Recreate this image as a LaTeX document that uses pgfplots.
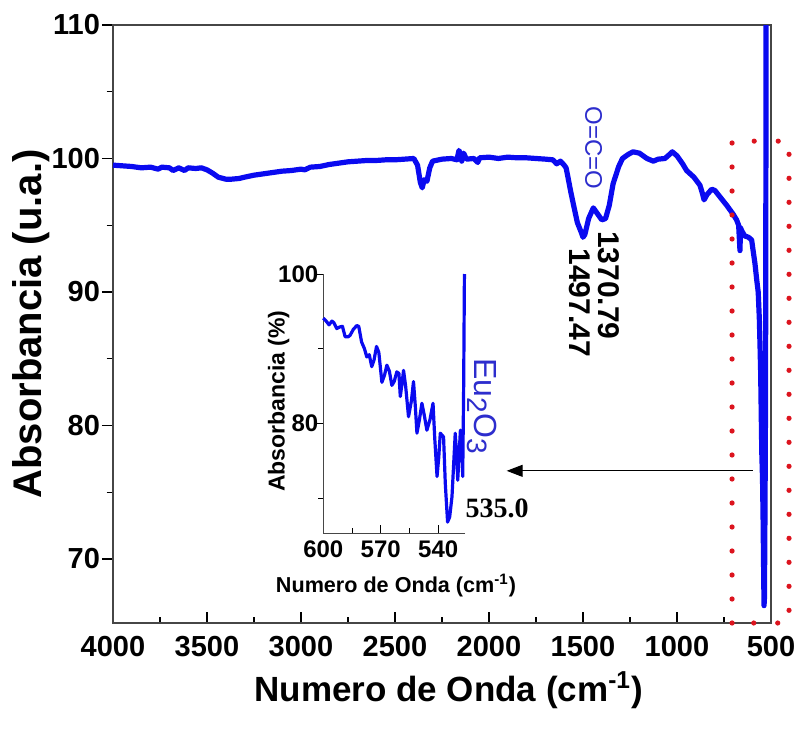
\documentclass[border=0pt]{standalone}
\usepackage{fontspec}
\setmainfont{Liberation Sans}
\newfontfamily\timesfont{Liberation Serif}
\usepackage{pgfplots}
\pgfplotsset{compat=1.18}
\usetikzlibrary{arrows.meta}
\definecolor{curve}{RGB}{10,10,240}
\definecolor{lblue}{RGB}{45,45,205}
\definecolor{axgray}{RGB}{70,70,70}
\definecolor{dotred}{RGB}{220,20,30}
\begin{document}
\begin{tikzpicture}
\useasboundingbox (-56.5pt,-53pt) rectangle (342.5pt,311.5pt);
\begin{axis}[
 at={(0pt,0pt)}, anchor=south west,
 scale only axis, width=329pt, height=299pt,
 xmin=500, xmax=4000, x dir=reverse,
 ymin=65.2, ymax=110,
 xtick={500,1000,...,4000}, ytick={70,80,...,110},
 minor x tick num=1, minor y tick num=1,
 xtick pos=bottom, ytick pos=left,
 tick align=inside,
 major tick length=5.5pt, minor tick length=3.2pt,
 major y tick style={xshift=-5.5pt}, minor y tick style={xshift=-3.2pt},
 tick style={black, line width=0.6pt},
 axis line style={axgray, line width=0.8pt},
 /pgf/number format/assume math mode=true,
 /pgf/number format/1000 sep={},
 scaled ticks=false,
 ticklabel style={font=\fontsize{14.5}{16}\selectfont\bfseries},
 yticklabel style={xshift=-3pt},
 xticklabel style={yshift=-3pt},
 xlabel={Numero de Onda (cm\textsuperscript{-1})},
 ylabel={Absorbancia (u.a.)},
 xlabel style={font=\fontsize{17.5}{20}\selectfont\bfseries, at={(axis description cs:0.51,-0.112)}, anchor=center},
 ylabel style={font=\fontsize{20}{24}\selectfont\bfseries, at={(axis description cs:-0.124,0.5)}, anchor=center},
 clip=false,
]
\addplot[curve, line width=2.6pt, line join=round] coordinates {
(4000,99.5) (3950,99.45) (3900,99.4) (3850,99.3) (3800,99.35) (3760,99.2) (3740,99.35)
(3700,99.3) (3680,99.1) (3650,99.3) (3620,99.1) (3600,99.3) (3560,99.25) (3530,99.3)
(3500,99.15) (3470,98.9) (3440,98.6) (3400,98.45) (3370,98.45) (3330,98.5) (3300,98.6)
(3250,98.75) (3200,98.85) (3150,98.95) (3100,99.05) (3050,99.1) (3000,99.2) (2980,99.15)
(2950,99.35) (2900,99.4) (2850,99.55) (2800,99.65) (2750,99.75) (2700,99.8) (2650,99.85)
(2600,99.85) (2550,99.9) (2500,99.9) (2450,99.95) (2400,100.0) (2380,99.5) (2365,98.2)
(2355,97.8) (2345,98.4) (2330,98.3) (2315,99.3) (2300,99.8) (2250,99.95) (2200,100.0)
(2170,99.9) (2160,100.6) (2150,100.3) (2145,99.8) (2135,100.4) (2120,99.95) (2080,100.0)
(2060,99.7) (2050,100.05) (2000,100.1) (1950,100.0) (1900,100.1) (1850,100.05) (1800,100.05)
(1750,100.0) (1700,99.95) (1660,99.9) (1640,99.6) (1620,99.8) (1600,99.5) (1590,99.3)
(1580,98.6) (1565,97.5) (1550,96.5) (1530,95.2) (1510,94.5) (1500,94.1) (1490,94.3)
(1470,95.5) (1445,96.3) (1420,95.8) (1400,95.4) (1380,95.5) (1360,96.5) (1340,98.1)
(1310,99.4) (1290,100.0) (1260,100.3) (1234,100.5) (1200,100.4) (1160,100.0) (1126,99.8)
(1100,99.95) (1064,100.0) (1040,100.3) (1025,100.5) (1000,100.2) (970,99.6) (949,99.1)
(910,98.6) (878,98.0) (865,97.4) (856,96.9) (840,97.3) (815,97.7) (798,97.6) (770,97.1)
(736,96.5) (700,95.8) (683,95.4) (672,95.0) (665,93.1) (662,94.8) (656,94.6) (640,94.2)
(620,94.1) (603,93.9) (592,92.8) (585,92.1) (575,90.8) (568,90.0) (562,88) (558,85.8)
(555,84) (552,81) (549,78) (545,76) (542,73) (539,69) (537,66.5) (535,67) (533,71)
(531,76) (529,82) (528,90) (527,100) (526.5,110)
};
\node[rotate=-90, text=lblue, font=\fontsize{12}{14}\selectfont] at (axis cs:1444,100.8) {O=C=O};
\node[rotate=-90, font=\fontsize{15}{18}\selectfont\bfseries] at (axis cs:1516,89.2) {1497.47};
\node[rotate=-90, font=\fontsize{15}{18}\selectfont\bfseries] at (axis cs:1362,90.5) {1370.79};
\node[rotate=-90, text=lblue, font=\fontsize{16}{18}\selectfont] at (axis cs:2037,81.45) {Eu\raisebox{-0.45ex}{\fontsize{14}{16}\selectfont 2}O\raisebox{-0.45ex}{\fontsize{14}{16}\selectfont 3}};
\node[font=\fontsize{14}{16}\timesfont\bfseries] at (axis cs:1957,73.8) {535.0};
\draw[dotred, line width=2.6pt, line cap=round, dash pattern=on 0pt off 12pt] (axis cs:707,65.2) rectangle (axis cs:404,101.3);
\draw[black, line width=0.5pt, -{Triangle[length=8pt,width=6pt]}] (axis cs:596,76.6) -- (axis cs:1906,76.6);
\end{axis}
\begin{axis}[
 at={(105.15pt,44.85pt)}, anchor=south west,
 scale only axis, width=70.85pt, height=129.65pt,
 xmin=526, xmax=600, x dir=reverse, ymin=65.3, ymax=100,
 axis x line*=bottom, axis y line*=left,
 xtick={540,570,600}, minor xtick={555,585}, ytick={80,100}, minor ytick={70,90},
 tick align=inside, major tick length=4pt, minor tick length=2.5pt,
 major y tick style={xshift=-4pt}, minor y tick style={xshift=-2.5pt},
 tick style={black, line width=0.5pt},
 axis line style={axgray, line width=0.7pt},
 /pgf/number format/assume math mode=true,
 /pgf/number format/1000 sep={},
 ticklabel style={font=\fontsize{12}{14}\selectfont\bfseries},
 yticklabel style={xshift=1pt},
 xlabel={Numero de Onda (cm\textsuperscript{-1})},
 ylabel={Absorbancia (\%)},
 xlabel style={font=\fontsize{10.8}{13}\selectfont\bfseries, at={(axis description cs:0.513,-0.2)}, anchor=center},
 ylabel style={font=\fontsize{11.5}{14}\selectfont\bfseries, at={(axis description cs:-0.315,0.51)}, anchor=center},
 clip=false,
]
\addplot[curve, line width=1.6pt, line join=round] coordinates {
(600,94.1) (598.5,93.7) (597,93.2) (595.5,93.7) (594.5,93.5) (593,92.7) (591.5,92.9) (590,93.0)
(588.6,91.6) (587,91.6) (586,91.8) (584.3,92.6) (582.5,93.1) (581.5,93.0) (580,90.9) (578.5,90.0)
(577.3,88.9) (576,89.2) (574.7,87.6) (573.5,88.5) (572.2,90.3) (571,89.5) (569.4,85.5) (568,86.5)
(566.8,87.8) (565.5,87.0) (564.2,85.1) (563,85.6) (561.6,86.9) (560.5,86.7) (559.8,83.6) (558.8,85.5)
(558.1,87.1) (557,85.0) (555.5,80.9) (554,83.0) (552.9,85.6) (552,82.5) (551.1,78.7) (549.8,80.5)
(548.5,82.7) (547.2,81.0) (545.9,79.1) (544.3,80.5) (542.7,82.7) (541.8,78.0) (540.6,72.9) (539.7,75.5)
(538.9,78.7) (537.2,78.2) (536.3,72.0) (535.1,66.8) (534,67.5) (532.8,70.2) (531.1,78.7) (530.4,76.0)
(529.8,72.4) (528.4,79.1) (527.6,77) (527.2,72.9) (526.7,85.1) (526.3,100)
};
\end{axis}
\end{tikzpicture}
\end{document}
